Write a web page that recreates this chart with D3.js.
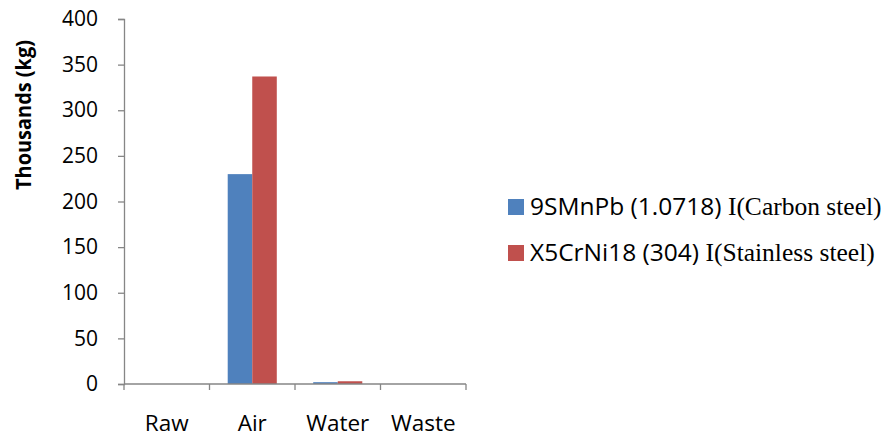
<!DOCTYPE html>
<html><head><meta charset="utf-8">
<script src="https://cdn.jsdelivr.net/npm/d3@7"></script>
<style>body{margin:0;background:#fff;} svg{display:block;}</style>
</head><body>
<svg id="c" width="886" height="438"></svg>
<script>
const categories = ["Raw", "Air", "Water", "Waste"];
const seriesNames = ["9SMnPb (1.0718) ", "X5CrNi18 (304) "];
const seriesSuffix = ["I(Carbon steel)", "I(Stainless steel)"];
const carbonSteel = [0, 230, 2, 0];
const stainlessSteel = [0, 337, 3, 0];
const yTicks = [0, 50, 100, 150, 200, 250, 300, 350, 400];
const colors = ["#4F81BD", "#C0504D"];

const series = [carbonSteel, stainlessSteel];
const svg = d3.select("#c");
const m = {left: 124, right: 466, top: 19, bottom: 384};
const font = "'Open Sans', sans-serif";

const x = d3.scaleBand().domain(categories).range([m.left, m.right]).paddingInner(0).paddingOuter(0);
const y = d3.scaleLinear().domain([0, 400]).range([m.bottom, m.top]);
const barW = x.bandwidth() * 0.287;
const gx = d3.scaleBand().domain([0, 1]).range([0, barW * 2]);

categories.forEach((c, i) => {
  series.forEach((s, k) => {
    const v = s[i];
    if (v <= 0) return;
    svg.append("rect")
      .attr("x", x(c) + (x.bandwidth() - barW * 2) / 2 + gx(k))
      .attr("y", y(v))
      .attr("width", gx.bandwidth())
      .attr("height", y(0) - y(v))
      .attr("fill", colors[k]);
  });
});

const axisColor = "#868686";
// y axis
const ya = svg.append("g").attr("transform", `translate(${m.left},0)`)
  .call(d3.axisLeft(y).tickValues(yTicks).tickSize(6).tickPadding(20));
ya.select(".domain").attr("stroke", axisColor).attr("stroke-width", 1.3);
ya.selectAll(".tick line").attr("stroke", axisColor).attr("stroke-width", 1.3);
ya.selectAll(".tick text").attr("font-family", font).attr("font-size", 21).attr("fill", "#000");

// x axis
const xa = svg.append("g").attr("transform", `translate(0,${m.bottom})`);
xa.append("line").attr("x1", m.left).attr("x2", m.right).attr("stroke", axisColor).attr("stroke-width", 1.3);
const bounds = categories.map(c => x(c)).concat([x(categories[categories.length - 1]) + x.bandwidth()]);
bounds.forEach(b => xa.append("line").attr("x1", b).attr("x2", b).attr("y1", 0).attr("y2", 6)
  .attr("stroke", axisColor).attr("stroke-width", 1.3));
categories.forEach(c => xa.append("text").attr("x", x(c) + x.bandwidth() / 2).attr("y", 47)
  .attr("text-anchor", "middle").attr("font-family", font).attr("font-size", 22.5).attr("fill", "#000").text(c));

// y title
svg.append("text").attr("transform", "translate(31,115) rotate(-90)")
  .attr("text-anchor", "middle").attr("font-family", font).attr("font-weight", "bold")
  .attr("font-size", 21).attr("fill", "#000")
  .attr("textLength", 150).attr("lengthAdjust", "spacingAndGlyphs").text("Thousands (kg)");

// legend
series.forEach((s, k) => {
  const ly = 215 + k * 46;
  svg.append("rect").attr("x", 508).attr("y", ly - 16).attr("width", 16).attr("height", 16).attr("fill", colors[k]);
  const t = svg.append("text").attr("x", 530).attr("y", ly).attr("fill", "#000");
  t.append("tspan").attr("font-family", font).attr("font-size", 24.5).text(seriesNames[k]);
  t.append("tspan").attr("font-family", "'Liberation Serif', 'Times New Roman', serif").attr("font-size", 25.5).text(seriesSuffix[k]);
});
</script>
</body></html>
